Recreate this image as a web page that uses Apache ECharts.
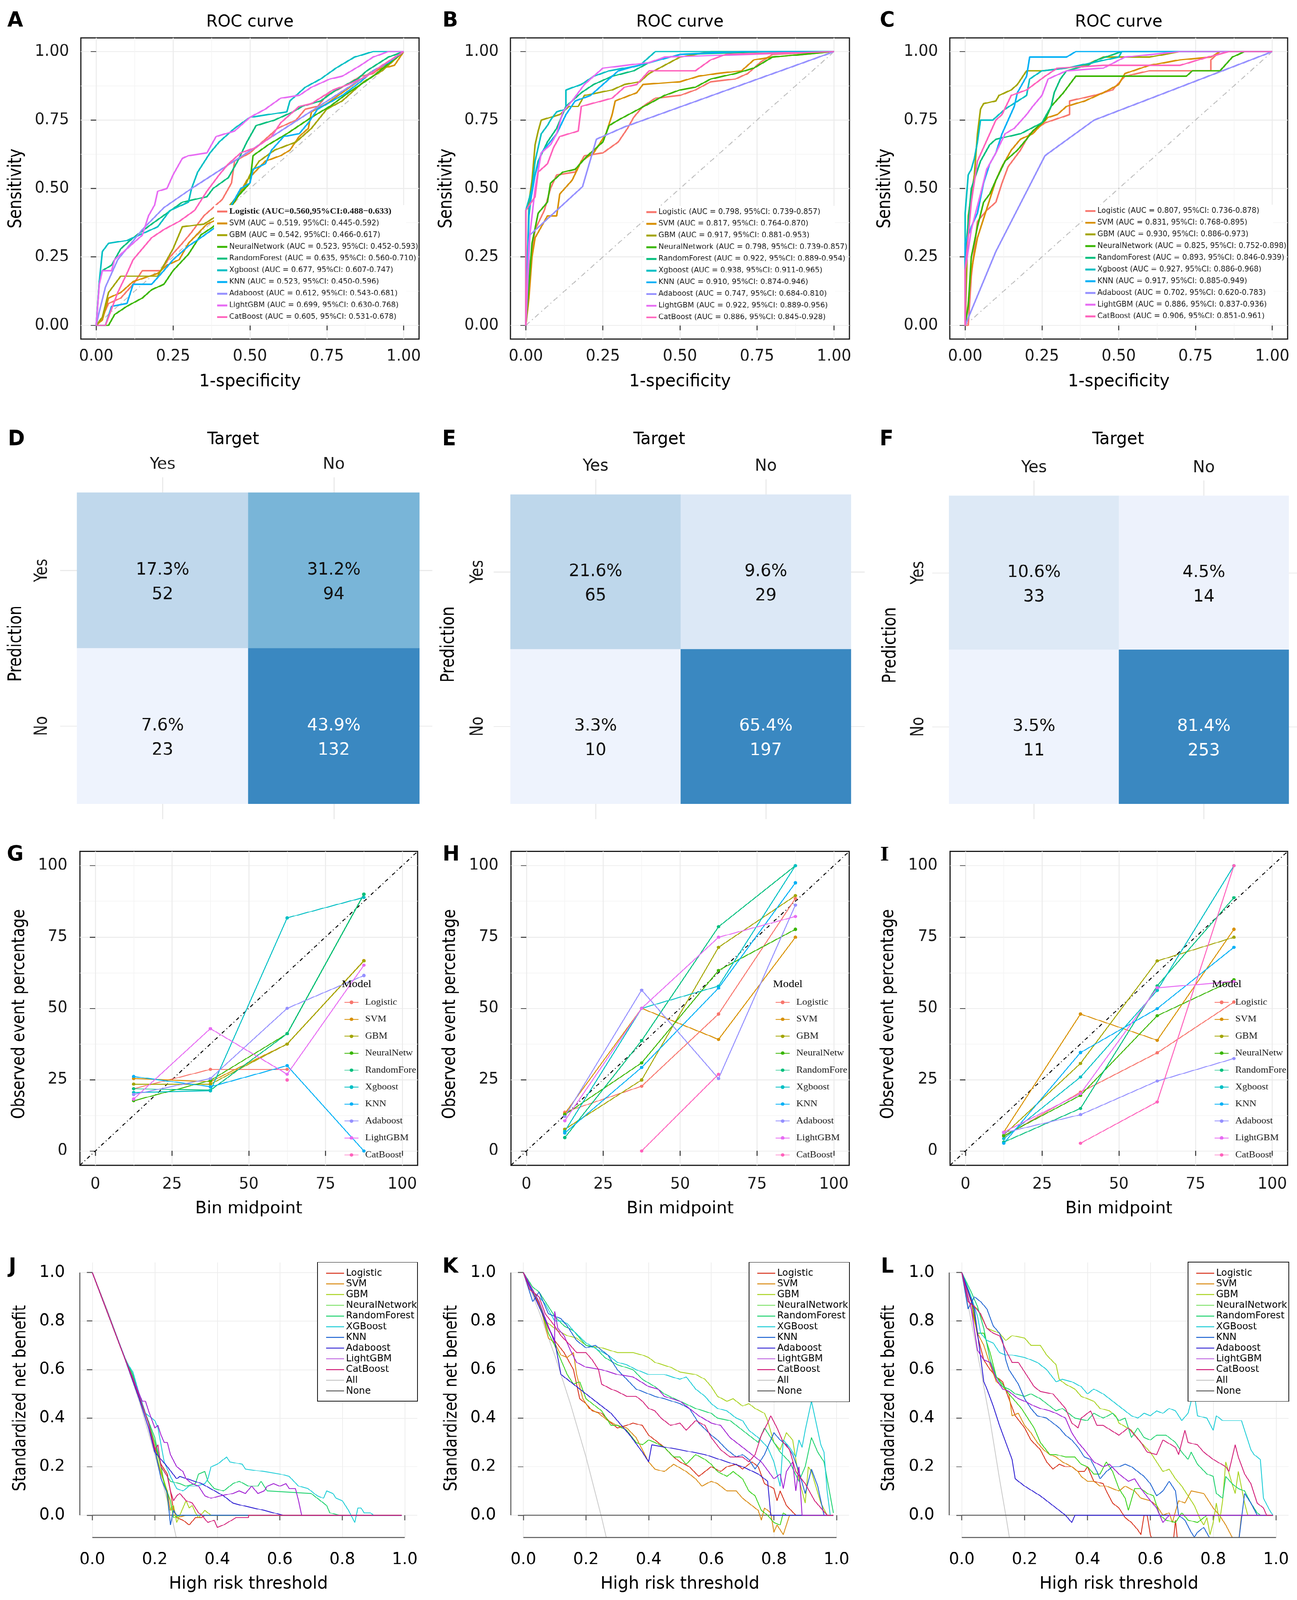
<!DOCTYPE html>
<html>
<head>
<meta charset="utf-8">
<script src="https://cdn.jsdelivr.net/npm/echarts@6.0.0/dist/echarts.min.js"></script>
<style>
html, body { margin: 0; padding: 0; background: #fff; overflow: hidden; }
#page { position: relative; width: 3321px; height: 4511px; background: #fff; overflow: hidden; transform-origin: 0 0; }
.panel { position: absolute; }
</style>
</head>
<body>
<div id="page"></div>
<script>
// The figure is laid out on a 3321 x 4511 sheet; if the window is shorter, the sheet is
// fitted to the visible height so that every panel stays in view.
(function () {
  var sy = Math.min(1, window.innerHeight / 4511);
  if (sy < 1) document.getElementById('page').style.transform = 'scale(1,' + sy + ')';
})();

// ---------- data ----------
var models = ['Logistic', 'SVM', 'GBM', 'NeuralNetwork', 'RandomForest', 'Xgboost', 'KNN', 'Adaboost', 'LightGBM', 'CatBoost'];
var dcaModels = ['Logistic', 'SVM', 'GBM', 'NeuralNetwork', 'RandomForest', 'XGBoost', 'KNN', 'Adaboost', 'LightGBM', 'CatBoost'];

var rocTicks = [0, 0.25, 0.5, 0.75, 1];
var rocMinor = [0.125, 0.375, 0.625, 0.875];
var calTicks = [0, 25, 50, 75, 100];
var calMinor = [12.5, 37.5, 62.5, 87.5];
var calBins = [12.5, 37.5, 62.5, 87.5];
var dcaTicks = [0, 0.2, 0.4, 0.6, 0.8, 1.0];

var rocLabelsA = [
  'Logistic (AUC=0.560,95%CI:0.488\u22120.633)',
  'SVM (AUC = 0.519, 95%CI: 0.445-0.592)',
  'GBM (AUC = 0.542, 95%CI: 0.466-0.617)',
  'NeuralNetwork (AUC = 0.523, 95%CI: 0.452-0.593)',
  'RandomForest (AUC = 0.635, 95%CI: 0.560-0.710)',
  'Xgboost (AUC = 0.677, 95%CI: 0.607-0.747)',
  'KNN (AUC = 0.523, 95%CI: 0.450-0.596)',
  'Adaboost (AUC = 0.612, 95%CI: 0.543-0.681)',
  'LightGBM (AUC = 0.699, 95%CI: 0.630-0.768)',
  'CatBoost (AUC = 0.605, 95%CI: 0.531-0.678)'
];
var rocLabelsB = [
  'Logistic (AUC = 0.798, 95%CI: 0.739-0.857)',
  'SVM (AUC = 0.817, 95%CI: 0.764-0.870)',
  'GBM (AUC = 0.917, 95%CI: 0.881-0.953)',
  'NeuralNetwork (AUC = 0.798, 95%CI: 0.739-0.857)',
  'RandomForest (AUC = 0.922, 95%CI: 0.889-0.954)',
  'Xgboost (AUC = 0.938, 95%CI: 0.911-0.965)',
  'KNN (AUC = 0.910, 95%CI: 0.874-0.946)',
  'Adaboost (AUC = 0.747, 95%CI: 0.684-0.810)',
  'LightGBM (AUC = 0.922, 95%CI: 0.889-0.956)',
  'CatBoost (AUC = 0.886, 95%CI: 0.845-0.928)'
];
var rocLabelsC = [
  'Logistic (AUC = 0.807, 95%CI: 0.736-0.878)',
  'SVM (AUC = 0.831, 95%CI: 0.768-0.895)',
  'GBM (AUC = 0.930, 95%CI: 0.886-0.973)',
  'NeuralNetwork (AUC = 0.825, 95%CI: 0.752-0.898)',
  'RandomForest (AUC = 0.893, 95%CI: 0.846-0.939)',
  'Xgboost (AUC = 0.927, 95%CI: 0.886-0.968)',
  'KNN (AUC = 0.917, 95%CI: 0.885-0.949)',
  'Adaboost (AUC = 0.702, 95%CI: 0.620-0.783)',
  'LightGBM (AUC = 0.886, 95%CI: 0.837-0.936)',
  'CatBoost (AUC = 0.906, 95%CI: 0.851-0.961)'
];

// ROC curves, [1-specificity, sensitivity]
var rocA = [
  [[0,0],[0.02,0.03],[0.04,0.08],[0.08,0.1],[0.12,0.15],[0.15,0.2],[0.21,0.2],[0.24,0.25],[0.28,0.3],[0.31,0.34],[0.35,0.4],[0.41,0.46],[0.44,0.52],[0.45,0.6],[0.5,0.63],[0.55,0.68],[0.59,0.72],[0.65,0.75],[0.68,0.79],[0.72,0.8],[0.75,0.84],[0.8,0.87],[0.86,0.91],[0.9,0.92],[0.95,0.96],[1,1]],
  [[0,0],[0.02,0.02],[0.04,0.1],[0.08,0.12],[0.12,0.16],[0.2,0.19],[0.23,0.22],[0.27,0.24],[0.3,0.3],[0.36,0.37],[0.4,0.39],[0.45,0.45],[0.49,0.53],[0.55,0.6],[0.6,0.62],[0.63,0.64],[0.66,0.69],[0.69,0.72],[0.7,0.78],[0.75,0.81],[0.8,0.85],[0.85,0.89],[0.9,0.93],[0.97,0.95],[1,1]],
  [[0,0],[0.02,0.03],[0.04,0.12],[0.08,0.18],[0.2,0.18],[0.25,0.28],[0.28,0.36],[0.35,0.37],[0.42,0.42],[0.45,0.46],[0.48,0.5],[0.5,0.55],[0.53,0.6],[0.58,0.64],[0.65,0.67],[0.7,0.72],[0.75,0.79],[0.8,0.82],[0.83,0.85],[0.87,0.89],[0.93,0.93],[1,1]],
  [[0,0],[0.04,0],[0.06,0.04],[0.1,0.07],[0.15,0.1],[0.18,0.13],[0.22,0.15],[0.25,0.2],[0.3,0.26],[0.34,0.33],[0.38,0.36],[0.43,0.42],[0.46,0.47],[0.5,0.52],[0.51,0.62],[0.56,0.66],[0.62,0.7],[0.7,0.76],[0.76,0.8],[0.82,0.85],[0.9,0.91],[1,1]],
  [[0,0],[0.01,0.16],[0.02,0.2],[0.05,0.22],[0.08,0.28],[0.12,0.32],[0.18,0.37],[0.23,0.41],[0.28,0.45],[0.36,0.47],[0.38,0.5],[0.43,0.54],[0.46,0.6],[0.49,0.67],[0.52,0.73],[0.58,0.75],[0.64,0.78],[0.67,0.8],[0.73,0.82],[0.78,0.86],[0.85,0.9],[0.88,0.93],[0.95,0.98],[1,1]],
  [[0,0],[0.01,0.16],[0.02,0.27],[0.04,0.3],[0.1,0.31],[0.14,0.33],[0.2,0.36],[0.24,0.42],[0.3,0.45],[0.31,0.5],[0.33,0.56],[0.37,0.63],[0.4,0.67],[0.45,0.72],[0.5,0.76],[0.62,0.78],[0.63,0.82],[0.68,0.87],[0.73,0.9],[0.78,0.94],[0.84,0.98],[0.9,1],[1,1]],
  [[0,0],[0.03,0],[0.05,0.07],[0.1,0.08],[0.12,0.15],[0.18,0.15],[0.22,0.2],[0.25,0.24],[0.3,0.29],[0.34,0.32],[0.39,0.36],[0.44,0.44],[0.47,0.5],[0.5,0.52],[0.51,0.57],[0.55,0.59],[0.57,0.64],[0.61,0.69],[0.66,0.7],[0.69,0.74],[0.72,0.79],[0.8,0.84],[0.86,0.89],[0.9,0.93],[0.95,0.96],[1,1]],
  [[0,0],[0.01,0.05],[0.03,0.14],[0.07,0.24],[0.15,0.35],[0.22,0.43],[0.31,0.5],[1,1]],
  [[0,0],[0.01,0.15],[0.02,0.2],[0.05,0.2],[0.06,0.24],[0.1,0.28],[0.15,0.33],[0.17,0.4],[0.19,0.44],[0.2,0.49],[0.23,0.5],[0.25,0.55],[0.28,0.61],[0.3,0.62],[0.36,0.63],[0.39,0.69],[0.45,0.71],[0.5,0.76],[0.55,0.79],[0.6,0.83],[0.66,0.84],[0.7,0.87],[0.76,0.9],[0.8,0.91],[0.86,0.95],[0.9,0.98],[0.95,1],[1,1]],
  [[0,0],[0.03,0],[0.05,0.06],[0.07,0.12],[0.1,0.19],[0.12,0.24],[0.15,0.28],[0.18,0.32],[0.22,0.35],[0.27,0.38],[0.32,0.42],[0.36,0.49],[0.4,0.55],[0.43,0.59],[0.47,0.63],[0.52,0.65],[0.57,0.69],[0.6,0.74],[0.66,0.8],[0.7,0.81],[0.77,0.86],[0.82,0.88],[0.88,0.91],[0.93,0.95],[1,1]]
];
var rocB = [
  [[0,0],[0.01,0.2],[0.03,0.35],[0.06,0.42],[0.08,0.5],[0.1,0.55],[0.16,0.56],[0.19,0.62],[0.25,0.63],[0.3,0.67],[0.33,0.72],[0.35,0.76],[0.38,0.8],[0.42,0.83],[0.5,0.84],[0.55,0.86],[0.6,0.89],[0.68,0.9],[0.72,0.92],[0.76,0.96],[0.8,0.99],[1,1]],
  [[0,0],[0.01,0.1],[0.02,0.25],[0.03,0.32],[0.05,0.36],[0.07,0.4],[0.1,0.4],[0.11,0.48],[0.15,0.53],[0.18,0.6],[0.22,0.63],[0.26,0.7],[0.28,0.77],[0.29,0.82],[0.36,0.85],[0.38,0.88],[0.5,0.89],[0.56,0.91],[0.62,0.92],[0.7,0.93],[0.74,0.97],[0.8,0.98],[1,1]],
  [[0,0],[0.01,0.45],[0.02,0.53],[0.03,0.66],[0.04,0.71],[0.05,0.75],[0.08,0.76],[0.11,0.77],[0.14,0.8],[0.17,0.8],[0.19,0.84],[0.28,0.86],[0.32,0.88],[0.37,0.89],[0.4,0.92],[0.45,0.95],[0.5,0.98],[0.6,1],[1,1]],
  [[0,0],[0.01,0.15],[0.02,0.3],[0.04,0.41],[0.07,0.45],[0.08,0.52],[0.12,0.56],[0.16,0.57],[0.2,0.62],[0.25,0.67],[0.27,0.73],[0.3,0.75],[0.35,0.78],[0.4,0.81],[0.45,0.84],[0.5,0.86],[0.55,0.87],[0.6,0.9],[0.68,0.92],[0.74,0.94],[0.77,0.96],[0.8,0.98],[1,1]],
  [[0,0],[0.01,0.4],[0.02,0.5],[0.04,0.6],[0.07,0.67],[0.1,0.72],[0.13,0.8],[0.18,0.85],[0.22,0.88],[0.28,0.91],[0.35,0.93],[0.4,0.96],[0.5,0.99],[0.8,1],[1,1]],
  [[0,0],[0,0.42],[0.01,0.46],[0.02,0.5],[0.03,0.6],[0.05,0.7],[0.07,0.73],[0.08,0.75],[0.1,0.78],[0.13,0.79],[0.13,0.86],[0.18,0.88],[0.22,0.91],[0.27,0.93],[0.37,0.95],[0.4,0.98],[0.42,1],[1,1]],
  [[0,0],[0.01,0.42],[0.03,0.55],[0.05,0.63],[0.1,0.7],[0.13,0.77],[0.16,0.82],[0.21,0.84],[0.25,0.88],[0.3,0.93],[0.4,0.96],[0.5,0.99],[0.7,1],[1,1]],
  [[0,0],[0.013,0.33],[0.184,0.507],[0.229,0.68],[0.32,0.725],[1,1]],
  [[0,0],[0.01,0.3],[0.03,0.5],[0.05,0.63],[0.08,0.66],[0.1,0.7],[0.12,0.78],[0.15,0.82],[0.19,0.88],[0.22,0.91],[0.25,0.94],[0.4,0.96],[0.45,0.98],[0.72,0.99],[1,1]],
  [[0,0],[0,0.42],[0.03,0.47],[0.04,0.56],[0.07,0.59],[0.09,0.65],[0.11,0.69],[0.17,0.71],[0.18,0.8],[0.28,0.83],[0.32,0.87],[0.36,0.88],[0.4,0.93],[0.55,0.93],[0.6,0.97],[0.65,0.99],[1,1]]
];
var rocC = [
  [[0,0],[0.01,0],[0.02,0.18],[0.04,0.38],[0.07,0.42],[0.1,0.45],[0.12,0.52],[0.14,0.58],[0.18,0.64],[0.21,0.7],[0.26,0.74],[0.34,0.77],[0.34,0.82],[0.42,0.84],[0.48,0.86],[0.52,0.91],[0.6,0.93],[0.8,0.93],[0.8,0.97],[0.83,1],[1,1]],
  [[0,0],[0.01,0.08],[0.02,0.2],[0.04,0.32],[0.06,0.39],[0.08,0.46],[0.1,0.53],[0.12,0.58],[0.15,0.64],[0.18,0.68],[0.22,0.7],[0.27,0.76],[0.3,0.77],[0.33,0.8],[0.39,0.82],[0.45,0.85],[0.5,0.88],[0.52,0.92],[0.6,0.95],[0.7,0.97],[0.8,0.98],[0.83,1],[1,1]],
  [[0,0],[0.01,0.4],[0.03,0.55],[0.04,0.7],[0.05,0.79],[0.06,0.81],[0.1,0.82],[0.11,0.84],[0.15,0.86],[0.17,0.88],[0.2,0.93],[0.25,0.93],[0.33,0.94],[0.39,0.95],[0.45,0.98],[0.6,0.98],[0.7,1],[1,1]],
  [[0,0],[0.01,0.07],[0.02,0.25],[0.04,0.36],[0.06,0.45],[0.08,0.48],[0.1,0.53],[0.13,0.6],[0.17,0.64],[0.2,0.68],[0.22,0.71],[0.26,0.75],[0.28,0.8],[0.32,0.85],[0.36,0.91],[0.72,0.91],[0.74,0.93],[0.83,0.93],[0.87,0.98],[0.91,1],[1,1]],
  [[0,0],[0,0.25],[0.02,0.5],[0.05,0.6],[0.08,0.66],[0.1,0.68],[0.18,0.7],[0.25,0.74],[0.28,0.8],[0.29,0.85],[0.31,0.9],[0.33,0.93],[0.4,0.95],[0.43,0.97],[0.51,1],[1,1]],
  [[0,0],[0,0.41],[0.01,0.55],[0.02,0.57],[0.03,0.61],[0.04,0.67],[0.05,0.75],[0.09,0.75],[0.13,0.79],[0.2,0.84],[0.21,0.9],[0.25,0.93],[0.33,0.94],[0.5,0.98],[0.51,1],[1,1]],
  [[0,0],[0,0.3],[0.02,0.36],[0.04,0.41],[0.06,0.52],[0.08,0.59],[0.1,0.63],[0.12,0.7],[0.14,0.75],[0.16,0.8],[0.17,0.85],[0.2,0.91],[0.21,0.98],[0.33,0.98],[0.36,1],[1,1]],
  [[0,0],[0.1,0.27],[0.26,0.62],[0.42,0.75],[1,1]],
  [[0,0],[0,0.2],[0.02,0.35],[0.05,0.48],[0.07,0.57],[0.1,0.63],[0.13,0.7],[0.16,0.72],[0.2,0.77],[0.22,0.8],[0.25,0.84],[0.27,0.9],[0.33,0.93],[0.45,0.94],[0.52,0.98],[0.7,1],[1,1]],
  [[0,0],[0,0.2],[0.02,0.45],[0.04,0.6],[0.08,0.7],[0.1,0.75],[0.12,0.77],[0.15,0.84],[0.2,0.86],[0.26,0.91],[0.3,0.94],[0.45,0.95],[0.7,0.95],[0.79,0.98],[0.86,1],[1,1]]
];

// confusion matrices: [predYes/targetYes, predYes/targetNo, predNo/targetYes, predNo/targetNo]
var cmTargets = ['Yes', 'No'];
var cmPredRows = ['No', 'Yes'];
var cmPctD = [17.3, 31.2, 7.6, 43.9];
var cmCountD = [52, 94, 23, 132];
var cmPctE = [21.6, 9.6, 3.3, 65.4];
var cmCountE = [65, 29, 10, 197];
var cmPctF = [10.6, 4.5, 3.5, 81.4];
var cmCountF = [33, 14, 11, 253];

// calibration: observed event percentage per bin (null = no point)
var calG = [
  [21.8, 28.6, 28.6, null],
  [25.4, 24.3, 37.5, 66.7],
  [23.4, 23.4, 37.5, 66.6],
  [17.6, 24.7, 41.1, 90.0],
  [21.8, 21.3, 41.1, 90.0],
  [20.5, 21.1, 81.7, 88.9],
  [26.1, 22.5, 29.9, 0],
  [19.8, 25.4, 50.0, 61.5],
  [18.2, 42.9, 26.9, 65.1],
  [null, null, 24.9, null]
];
var calH = [
  [13.6, 22.7, 48.0, 88.5],
  [13.1, 50.0, 39.1, 74.9],
  [7.6, 24.9, 71.4, 89.5],
  [12.7, 30.9, 63.3, 77.7],
  [4.7, 38.7, 78.6, 100],
  [6.9, 50.0, 57.8, 100],
  [6.3, 29.3, 57.1, 94.0],
  [12.1, 56.4, 25.4, 86.2],
  [10.6, 50.0, 74.9, 82.2],
  [null, 0, 26.9, null]
];
var calI = [
  [5.1, 20.6, 34.4, 52.2],
  [6.6, 48.0, 38.8, 77.7],
  [5.6, 30.7, 66.6, 74.9],
  [5.3, 19.5, 47.4, 60.0],
  [3.1, 14.9, 57.9, 88.8],
  [4.3, 25.9, 56.3, 100],
  [2.7, 34.5, 49.9, 71.4],
  [6.4, 12.7, 24.5, 32.4],
  [6.6, 20.1, 57.2, 59.4],
  [null, 2.7, 17.2, 100]
];

// decision curves: [threshold, standardized net benefit]
var dcaJ = [
  [[0,1],[0.05,0.83],[0.1,0.66],[0.15,0.49],[0.18,0.38],[0.2,0.28],[0.22,0.21],[0.24,0.17],[0.25,0.1],[0.26,0.02],[0.27,-0.01],[0.29,-0.02],[0.31,-0.04],[0.33,-0.01],[0.35,-0.01],[0.36,0],[0.99,0]],
  [[0,1],[0.05,0.83],[0.1,0.66],[0.15,0.49],[0.18,0.38],[0.2,0.27],[0.22,0.17],[0.24,0.1],[0.25,0.02],[0.26,0.03],[0.27,-0.01],[0.3,0],[0.99,0]],
  [[0,1],[0.05,0.83],[0.1,0.66],[0.15,0.5],[0.18,0.38],[0.2,0.27],[0.22,0.18],[0.235,0.12],[0.245,0.02],[0.26,0.04],[0.27,-0.03],[0.28,0],[0.3,0.06],[0.31,0.03],[0.32,0.04],[0.33,0.01],[0.34,-0.01],[0.36,0.02],[0.38,0],[0.99,0]],
  [[0,1],[0.05,0.83],[0.1,0.66],[0.13,0.57],[0.15,0.5],[0.18,0.38],[0.2,0.3],[0.22,0.2],[0.23,0.13],[0.25,0.06],[0.26,-0.01],[0.28,0],[0.99,0]],
  [[0,1],[0.05,0.83],[0.1,0.66],[0.13,0.58],[0.15,0.5],[0.17,0.42],[0.2,0.32],[0.22,0.2],[0.25,0.14],[0.28,0.13],[0.3,0.12],[0.33,0.13],[0.34,0.17],[0.36,0.18],[0.37,0.14],[0.39,0.11],[0.42,0.1],[0.45,0.13],[0.47,0.14],[0.5,0.12],[0.53,0.12],[0.54,0.14],[0.56,0.1],[0.7,0.09],[0.72,0.07],[0.75,0.04],[0.76,0.01],[0.79,0],[0.99,0]],
  [[0,1],[0.11,0.63],[0.13,0.59],[0.15,0.5],[0.17,0.42],[0.2,0.39],[0.21,0.36],[0.23,0.22],[0.25,0.16],[0.27,0.11],[0.29,0.1],[0.31,0.12],[0.33,0.12],[0.36,0.13],[0.37,0.15],[0.38,0.2],[0.4,0.21],[0.42,0.23],[0.43,0.24],[0.44,0.22],[0.48,0.21],[0.49,0.19],[0.55,0.18],[0.6,0.17],[0.63,0.16],[0.66,0.12],[0.69,0.11],[0.72,0.08],[0.74,0.07],[0.75,0.1],[0.77,0.09],[0.78,0.07],[0.8,0.06],[0.82,0.02],[0.84,-0.03],[0.85,0.03],[0.86,0.03],[0.87,0.01],[0.89,0.01],[0.9,0],[0.99,0]],
  [[0,1],[0.05,0.83],[0.1,0.66],[0.15,0.49],[0.18,0.38],[0.2,0.27],[0.22,0.15],[0.24,0.09],[0.25,-0.04],[0.26,0.02],[0.27,0],[0.99,0]],
  [[0,1],[0.05,0.83],[0.1,0.66],[0.15,0.48],[0.18,0.36],[0.2,0.26],[0.24,0.2],[0.27,0.15],[0.28,0.16],[0.35,0.13],[0.42,0.08],[0.45,0.05],[0.48,0.04],[0.55,0.02],[0.61,0],[0.99,0]],
  [[0,1],[0.1,0.66],[0.15,0.5],[0.16,0.47],[0.17,0.47],[0.18,0.43],[0.2,0.36],[0.21,0.37],[0.22,0.33],[0.23,0.3],[0.24,0.3],[0.25,0.25],[0.27,0.2],[0.29,0.18],[0.3,0.15],[0.32,0.13],[0.34,0.12],[0.36,0.08],[0.38,0.07],[0.41,0.08],[0.45,0.09],[0.47,0.1],[0.49,0.09],[0.51,0.12],[0.53,0.09],[0.55,0.1],[0.56,0.12],[0.58,0.13],[0.6,0.12],[0.62,0.13],[0.63,0.11],[0.65,0.11],[0.66,0.06],[0.67,0],[0.99,0]],
  [[0,1],[0.1,0.66],[0.15,0.49],[0.18,0.38],[0.2,0.27],[0.21,0.29],[0.22,0.2],[0.24,0.16],[0.25,0.1],[0.26,0.06],[0.27,0.08],[0.28,0.09],[0.3,0.06],[0.32,0.05],[0.34,0.01],[0.35,0],[0.37,-0.03],[0.39,-0.02],[0.4,-0.05],[0.42,-0.04],[0.46,-0.01],[0.5,-0.01],[0.5,0],[0.99,0]]
];
var dcaK = [
  [[0,1],[0.05,0.87],[0.08,0.77],[0.1,0.72],[0.13,0.67],[0.16,0.6],[0.18,0.48],[0.2,0.46],[0.22,0.43],[0.25,0.42],[0.28,0.38],[0.3,0.36],[0.33,0.37],[0.35,0.38],[0.38,0.37],[0.4,0.33],[0.42,0.31],[0.45,0.28],[0.48,0.24],[0.5,0.22],[0.53,0.2],[0.56,0.16],[0.6,0.2],[0.63,0.18],[0.65,0.2],[0.68,0.21],[0.7,0.19],[0.73,0.22],[0.75,0.2],[0.77,0.13],[0.8,0.11],[0.81,0.06],[0.82,0.1],[0.84,0.04],[0.87,0],[0.99,0]],
  [[0,1],[0.05,0.88],[0.08,0.73],[0.1,0.71],[0.12,0.66],[0.14,0.65],[0.16,0.67],[0.17,0.58],[0.19,0.48],[0.21,0.44],[0.24,0.42],[0.27,0.39],[0.3,0.37],[0.33,0.36],[0.36,0.32],[0.38,0.27],[0.4,0.22],[0.42,0.19],[0.45,0.18],[0.48,0.21],[0.52,0.18],[0.55,0.15],[0.57,0.12],[0.6,0.14],[0.62,0.13],[0.65,0.1],[0.68,0.1],[0.7,0.07],[0.72,0.05],[0.75,0.02],[0.76,-0.02],[0.77,0.03],[0.79,0.01],[0.8,-0.07],[0.81,-0.04],[0.83,-0.08],[0.85,0],[0.99,0]],
  [[0,1],[0.03,0.92],[0.05,0.88],[0.07,0.8],[0.09,0.78],[0.11,0.76],[0.14,0.74],[0.17,0.73],[0.2,0.7],[0.25,0.69],[0.3,0.67],[0.35,0.67],[0.38,0.66],[0.4,0.65],[0.42,0.63],[0.47,0.61],[0.5,0.59],[0.55,0.58],[0.58,0.56],[0.6,0.53],[0.62,0.49],[0.65,0.47],[0.67,0.48],[0.7,0.45],[0.72,0.46],[0.74,0.44],[0.77,0.42],[0.78,0.39],[0.8,0.3],[0.82,0.27],[0.84,0.34],[0.86,0.31],[0.88,0.15],[0.9,0.05],[0.91,0.2],[0.92,0.18],[0.95,0.05],[0.97,0],[0.99,0]],
  [[0,1],[0.05,0.88],[0.08,0.75],[0.1,0.7],[0.12,0.64],[0.14,0.58],[0.16,0.54],[0.18,0.55],[0.2,0.48],[0.22,0.46],[0.25,0.43],[0.28,0.37],[0.3,0.37],[0.33,0.35],[0.36,0.3],[0.38,0.29],[0.4,0.31],[0.42,0.3],[0.45,0.28],[0.48,0.24],[0.5,0.24],[0.52,0.21],[0.55,0.25],[0.58,0.23],[0.6,0.21],[0.62,0.18],[0.65,0.16],[0.67,0.18],[0.7,0.15],[0.72,0.1],[0.74,0.08],[0.76,0.02],[0.78,0],[0.8,-0.03],[0.82,-0.04],[0.83,0.01],[0.84,0],[0.99,0]],
  [[0,1],[0.03,0.94],[0.05,0.92],[0.1,0.82],[0.13,0.78],[0.16,0.76],[0.18,0.73],[0.2,0.7],[0.23,0.69],[0.26,0.65],[0.3,0.62],[0.35,0.6],[0.38,0.56],[0.42,0.53],[0.45,0.5],[0.5,0.47],[0.55,0.44],[0.6,0.42],[0.62,0.4],[0.66,0.39],[0.7,0.35],[0.73,0.32],[0.75,0.3],[0.77,0.36],[0.8,0.3],[0.82,0.26],[0.85,0.22],[0.88,0.14],[0.9,0.2],[0.92,0.32],[0.94,0.26],[0.96,0.22],[0.99,0.01]],
  [[0,1],[0.03,0.92],[0.05,0.9],[0.07,0.87],[0.1,0.8],[0.12,0.8],[0.14,0.79],[0.16,0.76],[0.2,0.71],[0.24,0.68],[0.27,0.66],[0.3,0.63],[0.33,0.62],[0.36,0.6],[0.4,0.58],[0.45,0.58],[0.5,0.56],[0.52,0.57],[0.55,0.52],[0.58,0.49],[0.6,0.46],[0.62,0.44],[0.65,0.43],[0.68,0.4],[0.7,0.39],[0.72,0.35],[0.75,0.32],[0.78,0.28],[0.8,0.22],[0.82,0.12],[0.83,0.31],[0.85,0.28],[0.87,0.24],[0.88,0.31],[0.89,0.28],[0.9,0.35],[0.92,0.47],[0.94,0.35],[0.95,0.29],[0.96,0.26],[0.97,0.1],[0.98,0],[0.99,0]],
  [[0,1],[0.03,0.88],[0.05,0.92],[0.08,0.83],[0.12,0.81],[0.14,0.78],[0.17,0.72],[0.2,0.69],[0.23,0.7],[0.25,0.68],[0.27,0.66],[0.3,0.6],[0.33,0.56],[0.36,0.52],[0.38,0.51],[0.42,0.49],[0.45,0.48],[0.5,0.46],[0.53,0.44],[0.56,0.38],[0.6,0.33],[0.62,0.31],[0.65,0.27],[0.68,0.24],[0.7,0.25],[0.72,0.23],[0.74,0.19],[0.77,0.25],[0.8,0.34],[0.82,0.31],[0.84,0.29],[0.86,0.25],[0.88,0.18],[0.9,0.09],[0.92,0.19],[0.94,0.12],[0.96,0],[0.99,0]],
  [[0,1],[0.1,0.72],[0.12,0.58],[0.2,0.5],[0.28,0.42],[0.34,0.33],[0.38,0.26],[0.4,0.22],[0.41,0.29],[0.5,0.27],[0.58,0.25],[0.65,0.22],[0.7,0.2],[0.75,0.17],[0.78,0.14],[0.79,0],[0.99,0]],
  [[0,1],[0.05,0.88],[0.1,0.71],[0.1,0.84],[0.11,0.77],[0.13,0.74],[0.15,0.68],[0.17,0.63],[0.2,0.61],[0.25,0.6],[0.3,0.58],[0.35,0.57],[0.4,0.53],[0.43,0.52],[0.45,0.49],[0.5,0.47],[0.53,0.44],[0.56,0.41],[0.6,0.38],[0.63,0.37],[0.66,0.32],[0.7,0.28],[0.73,0.25],[0.76,0.22],[0.8,0.15],[0.82,0.17],[0.83,0.11],[0.84,0.18],[0.86,0.22],[0.87,0.1],[0.88,0.2],[0.89,0],[0.99,0]],
  [[0,1],[0.02,0.93],[0.05,0.9],[0.07,0.83],[0.1,0.78],[0.12,0.74],[0.15,0.7],[0.17,0.67],[0.2,0.67],[0.22,0.64],[0.24,0.6],[0.25,0.54],[0.28,0.52],[0.3,0.51],[0.33,0.49],[0.36,0.49],[0.38,0.47],[0.4,0.44],[0.42,0.43],[0.44,0.4],[0.47,0.37],[0.5,0.38],[0.52,0.35],[0.55,0.39],[0.58,0.37],[0.6,0.32],[0.63,0.27],[0.66,0.24],[0.7,0.24],[0.72,0.22],[0.74,0.25],[0.76,0.33],[0.78,0.38],[0.79,0.41],[0.81,0.36],[0.83,0.3],[0.85,0.27],[0.87,0.18],[0.9,0.13],[0.93,0.06],[0.95,0.03],[0.97,0],[0.99,0]]
];
var dcaL = [
  [[0,1],[0.03,0.88],[0.05,0.74],[0.07,0.64],[0.09,0.6],[0.11,0.57],[0.13,0.55],[0.15,0.48],[0.17,0.41],[0.2,0.36],[0.22,0.31],[0.25,0.27],[0.27,0.22],[0.29,0.19],[0.31,0.21],[0.33,0.2],[0.35,0.2],[0.37,0.18],[0.39,0.18],[0.4,0.2],[0.42,0.14],[0.45,0.13],[0.46,0.1],[0.48,0.05],[0.5,0.03],[0.51,0.01],[0.52,-0.01],[0.54,-0.03],[0.56,-0.06],[0.57,-0.08],[0.58,0],[0.59,0],[0.6,-0.08],[0.62,-0.15],[0.67,-0.15],[0.68,-0.02],[0.69,-0.15]],
  [[0,1],[0.03,0.85],[0.05,0.75],[0.07,0.7],[0.09,0.62],[0.11,0.55],[0.13,0.53],[0.15,0.5],[0.16,0.41],[0.18,0.42],[0.2,0.37],[0.22,0.34],[0.24,0.3],[0.26,0.27],[0.28,0.25],[0.3,0.24],[0.32,0.22],[0.35,0.2],[0.37,0.18],[0.38,0.16],[0.4,0.14],[0.42,0.14],[0.44,0.12],[0.46,0.12],[0.5,0.1],[0.52,0.12],[0.55,0.1],[0.57,0.07],[0.6,0.06],[0.62,0.04],[0.64,0],[0.66,0.01],[0.67,-0.03],[0.69,0.06],[0.71,0.05],[0.73,0.1],[0.77,0.09],[0.8,0.03],[0.82,0],[0.84,-0.04],[0.86,-0.09],[0.88,-0.12],[0.89,0],[0.99,0]],
  [[0,1],[0.02,0.88],[0.05,0.85],[0.08,0.77],[0.1,0.76],[0.12,0.75],[0.14,0.72],[0.16,0.74],[0.2,0.73],[0.22,0.7],[0.25,0.7],[0.27,0.66],[0.3,0.62],[0.31,0.56],[0.33,0.54],[0.36,0.52],[0.38,0.49],[0.42,0.47],[0.44,0.44],[0.47,0.43],[0.49,0.41],[0.5,0.38],[0.54,0.35],[0.57,0.3],[0.6,0.26],[0.62,0.22],[0.64,0.18],[0.66,0.19],[0.68,0.15],[0.7,0.12],[0.72,0.08],[0.74,0.04],[0.76,-0.02],[0.77,-0.04],[0.78,-0.01],[0.79,-0.08],[0.8,-0.03],[0.81,0.05],[0.82,-0.03],[0.83,0.06],[0.84,0.22],[0.86,0.13],[0.87,0.09],[0.88,0.18],[0.9,0.05],[0.91,0],[0.99,0]],
  [[0,1],[0.03,0.9],[0.05,0.75],[0.07,0.75],[0.09,0.67],[0.11,0.57],[0.13,0.54],[0.15,0.5],[0.17,0.47],[0.19,0.44],[0.21,0.4],[0.23,0.36],[0.25,0.3],[0.28,0.25],[0.3,0.25],[0.33,0.24],[0.36,0.24],[0.38,0.21],[0.4,0.2],[0.42,0.17],[0.44,0.17],[0.46,0.22],[0.48,0.18],[0.5,0.11],[0.52,0.07],[0.53,0.02],[0.55,0.11],[0.57,0.11],[0.59,0.09],[0.61,0.08],[0.63,0],[0.65,-0.02],[0.68,-0.03],[0.7,0.01],[0.72,-0.02],[0.75,-0.03],[0.78,0],[0.99,0]],
  [[0,1],[0.03,0.92],[0.05,0.86],[0.07,0.77],[0.09,0.64],[0.11,0.57],[0.13,0.53],[0.15,0.52],[0.17,0.5],[0.2,0.49],[0.22,0.5],[0.25,0.48],[0.27,0.46],[0.3,0.43],[0.32,0.44],[0.34,0.42],[0.36,0.4],[0.4,0.39],[0.42,0.42],[0.45,0.4],[0.48,0.42],[0.5,0.39],[0.52,0.4],[0.54,0.32],[0.56,0.36],[0.58,0.32],[0.6,0.31],[0.62,0.33],[0.65,0.33],[0.68,0.3],[0.7,0.26],[0.72,0.23],[0.73,0.26],[0.75,0.21],[0.78,0.17],[0.8,0.16],[0.81,0.09],[0.83,0.07],[0.84,0.16],[0.86,0.13],[0.88,0.11],[0.9,0.1],[0.92,0.05],[0.94,0.01],[0.95,0],[0.99,0]],
  [[0,1],[0.03,0.9],[0.05,0.82],[0.06,0.75],[0.08,0.72],[0.1,0.71],[0.12,0.67],[0.14,0.66],[0.16,0.66],[0.2,0.65],[0.22,0.64],[0.24,0.63],[0.27,0.6],[0.3,0.55],[0.32,0.56],[0.35,0.55],[0.38,0.53],[0.4,0.5],[0.42,0.52],[0.45,0.5],[0.48,0.47],[0.5,0.45],[0.52,0.43],[0.54,0.41],[0.56,0.4],[0.58,0.42],[0.6,0.41],[0.62,0.43],[0.64,0.42],[0.66,0.44],[0.68,0.43],[0.7,0.39],[0.72,0.42],[0.73,0.47],[0.74,0.5],[0.75,0.41],[0.78,0.4],[0.8,0.35],[0.81,0.41],[0.83,0.39],[0.86,0.39],[0.89,0.39],[0.9,0.35],[0.92,0.27],[0.93,0.25],[0.95,0.23],[0.96,0.07],[0.98,0.02],[0.99,0]],
  [[0,1],[0.02,0.85],[0.04,0.9],[0.06,0.88],[0.08,0.85],[0.1,0.78],[0.12,0.75],[0.13,0.72],[0.14,0.64],[0.15,0.6],[0.16,0.58],[0.18,0.54],[0.2,0.48],[0.22,0.44],[0.24,0.41],[0.27,0.4],[0.29,0.38],[0.31,0.36],[0.33,0.33],[0.35,0.31],[0.37,0.28],[0.39,0.24],[0.41,0.23],[0.43,0.18],[0.44,0.15],[0.46,0.18],[0.48,0.2],[0.5,0.2],[0.52,0.21],[0.54,0.2],[0.56,0.18],[0.58,0.16],[0.6,0.13],[0.62,0.08],[0.64,0.1],[0.66,0.14],[0.68,0.1],[0.69,0],[0.71,-0.02],[0.73,-0.07],[0.74,-0.09],[0.75,-0.07],[0.77,-0.05],[0.8,-0.12],[0.88,-0.12],[0.9,0.09],[0.92,0.05],[0.94,0],[0.99,0]],
  [[0,1],[0.04,0.85],[0.07,0.55],[0.08,0.52],[0.1,0.45],[0.12,0.37],[0.14,0.3],[0.16,0.23],[0.17,0.15],[0.2,0.12],[0.25,0.08],[0.3,0.03],[0.33,0],[0.35,-0.03],[0.36,0],[0.99,0]],
  [[0,1],[0.03,0.85],[0.05,0.68],[0.07,0.64],[0.09,0.63],[0.11,0.56],[0.13,0.52],[0.15,0.51],[0.18,0.48],[0.2,0.47],[0.23,0.45],[0.25,0.44],[0.28,0.43],[0.3,0.42],[0.33,0.4],[0.35,0.34],[0.37,0.3],[0.39,0.27],[0.42,0.22],[0.45,0.2],[0.47,0.21],[0.5,0.17],[0.53,0.14],[0.55,0.15],[0.57,0.11],[0.6,0.06],[0.62,0.03],[0.63,0],[0.64,-0.03],[0.66,0],[0.99,0]],
  [[0,1],[0.02,0.88],[0.04,0.86],[0.06,0.83],[0.08,0.77],[0.1,0.75],[0.12,0.74],[0.14,0.68],[0.16,0.63],[0.18,0.63],[0.2,0.59],[0.23,0.53],[0.25,0.51],[0.29,0.5],[0.31,0.47],[0.33,0.44],[0.35,0.38],[0.37,0.36],[0.38,0.4],[0.41,0.43],[0.43,0.37],[0.45,0.37],[0.5,0.33],[0.53,0.36],[0.55,0.33],[0.57,0.3],[0.59,0.26],[0.62,0.25],[0.64,0.31],[0.68,0.28],[0.69,0.25],[0.71,0.35],[0.72,0.3],[0.75,0.29],[0.77,0.26],[0.8,0.23],[0.84,0.2],[0.85,0.18],[0.87,0.29],[0.88,0.24],[0.9,0.17],[0.92,0.13],[0.94,0.05],[0.96,0.03],[0.97,0],[0.99,0]]
];
var dcaAllJ = [[0,1],[0.05,0.84],[0.1,0.66],[0.15,0.47],[0.2,0.25],[0.253,0],[0.27,-0.1]];
var dcaAllK = [[0,1],[0.05,0.84],[0.1,0.66],[0.12,0.58],[0.15,0.46],[0.2,0.24],[0.25,-0.01],[0.27,-0.12]];
var dcaAllL = [[0,1],[0.03,0.8],[0.06,0.6],[0.09,0.39],[0.12,0.15],[0.14,0],[0.155,-0.12]];
var dcaNone = [[0,0],[0.99,0]];

// ---------- styles ----------
var FONT = '"DejaVu Sans Condensed", "DejaVu Sans", sans-serif';
var SERIF = '"Liberation Serif", "DejaVu Serif", serif';
var rocColors = ['#F8766D', '#D89000', '#A3A500', '#39B600', '#00BF7D', '#00BFC4', '#00B0F6', '#9590FF', '#E76BF3', '#FF62BC'];
var dcaColors = ['#D7301A', '#D98A10', '#A8D21E', '#3CD21E', '#1ED26E', '#1ECDD7', '#1E64D2', '#2D1ED2', '#A01ED2', '#D21E78'];
var cmColorsD = ['#C0D8EC', '#79B5D8', '#EEF3FD', '#3A88C1'];
var cmColorsE = ['#BED7EB', '#DCE8F6', '#EEF3FD', '#3A88C1'];
var cmColorsF = ['#DDE9F6', '#EDF2FC', '#EEF3FD', '#3A88C1'];
var cmTextColors = ['#111', '#111', '#111', '#fff'];

var COLS = [0, 1107, 2214];
var ROWS = [0, 1150, 2300, 3430];
var ROW_H = [1150, 1180, 1130, 1081];
var COL_W = 1107;

function panel(col, row) {
  var d = document.createElement('div');
  d.className = 'panel';
  d.style.left = COLS[col] + 'px';
  d.style.top = ROWS[row] + 'px';
  d.style.width = COL_W + 'px';
  d.style.height = ROW_H[row] + 'px';
  document.getElementById('page').appendChild(d);
  return echarts.init(d, null, { renderer: 'canvas' });
}

function txt(x, y, s, size, o) {
  o = o || {};
  return {
    type: 'text', x: x, y: y, rotation: o.rot || 0, z: 20, silent: true,
    style: {
      text: s, fill: o.color || '#000', fontSize: size, fontFamily: o.family || FONT,
      fontWeight: o.weight || 'normal', textAlign: 'center', textVerticalAlign: 'middle',
      align: 'center', verticalAlign: 'middle'
    }
  };
}

function boxAxes(min, max, ticks, minor, fmt, margin, tickColor) {
  var major = {
    type: 'value', min: min, max: max, gridIndex: 0,
    axisLine: { show: false },
    axisTick: { show: true, customValues: ticks, length: 14, lineStyle: { color: tickColor, width: 2.5 } },
    axisLabel: { customValues: ticks, formatter: fmt, margin: margin, fontSize: 44, color: '#1a1a1a', fontFamily: FONT },
    splitLine: { show: true, lineStyle: { color: '#EBEBEB', width: 2.5 } }
  };
  var out = [major];
  if (minor) {
    out.push({
      type: 'value', min: min, max: max, gridIndex: 0,
      axisLine: { show: false },
      axisTick: { show: false, customValues: minor },
      axisLabel: { show: false, customValues: minor },
      splitLine: { show: true, lineStyle: { color: '#F3F3F3', width: 1.5 } }
    });
  }
  return out;
}

// ---------- ROC panels ----------
function rocPanel(col, curves, labels, lay) {
  var chart = panel(col, 0);
  var series = [{
    type: 'line', name: 'ref', data: [[0, 0], [1, 1]], symbol: 'none', silent: true, z: 1,
    lineStyle: { color: '#BEBEBE', width: 2.5, type: [14, 8, 3, 8] }
  }];
  curves.forEach(function (c, i) {
    series.push({
      type: 'line', name: labels[i], data: c, symbol: 'none', showSymbol: false, z: 2,
      lineStyle: { color: rocColors[i], width: 4 }, itemStyle: { color: rocColors[i] }
    });
  });
  var xa = boxAxes(-0.05, 1.05, rocTicks, rocMinor, function (v) { return v.toFixed(2); }, 28, '#333');
  var ya = boxAxes(-0.05, 1.05, rocTicks, rocMinor, function (v) { return v.toFixed(2); }, 30, '#333');
  xa[1].position = 'top';
  ya[1].position = 'right';
  var g = lay.grid;
  chart.setOption({
    animation: false,
    backgroundColor: 'transparent',
    grid: { left: g[0], top: g[1], width: g[2], height: g[3], show: true, borderColor: '#1a1a1a', borderWidth: 3, outerBoundsMode: 'none' },
    xAxis: xa,
    yAxis: ya,
    legend: {
      orient: 'vertical', left: lay.legend[0], top: lay.legend[1], padding: 0, icon: 'rect',
      itemWidth: 26, itemHeight: 5, itemGap: 11, data: labels, selectedMode: false,
      textStyle: {
        fontSize: 21, fontFamily: FONT, color: '#1a1a1a', lineHeight: 22,
        rich: { b: { fontSize: 23, fontFamily: SERIF, fontWeight: 'bold', color: '#1a1a1a' } }
      },
      formatter: function (n) { return (lay.boldFirst && n === labels[0]) ? '{b|' + n + '}' : n; }
    },
    graphic: [
      { type: 'rect', z: 3, silent: true, shape: { x: lay.box[0], y: lay.box[1], width: lay.box[2], height: lay.box[3] }, style: { fill: '#fff' } },
      txt(lay.letter, 60, lay.letterText, 58, { weight: 'bold' }),
      txt(g[0] + g[2] / 2, 63, 'ROC curve', 47),
      txt(lay.ytitle, g[1] + g[3] / 2, 'Sensitivity', 48, { rot: Math.PI / 2 }),
      txt(g[0] + g[2] / 2, 1077, '1-specificity', 48)
    ],
    series: series
  });
}

rocPanel(0, rocA, rocLabelsA, { grid: [207, 107, 866, 849], legend: [556, 585], box: [548, 578, 492, 334], letter: 39, letterText: 'A', ytitle: 42, boldFirst: true });
rocPanel(1, rocB, rocLabelsB, { grid: [200, 107, 868, 849], legend: [548, 587], box: [543, 580, 488, 332], letter: 46, letterText: 'B', ytitle: 37 });
rocPanel(2, rocC, rocLabelsC, { grid: [218, 107, 865, 849], legend: [565, 584], box: [560, 577, 486, 334], letter: 58, letterText: 'C', ytitle: 53 });

// ---------- confusion matrices ----------
function cmPanel(col, pct, counts, colors, lay) {
  var chart = panel(col, 1);
  var t = lay.tiles, ext = 43;
  var cw = t[2] / 2, ch = t[3] / 2;
  var data = [];
  for (var k = 0; k < 4; k++) {
    var r = Math.floor(k / 2), c = k % 2;
    data.push({
      value: [c, 1 - r, counts[k]],
      itemStyle: { color: colors[k] },
      label: { color: cmTextColors[k] }
    });
  }
  chart.setOption({
    animation: false,
    backgroundColor: 'transparent',
    grid: [
      { left: t[0] - ext, top: t[1] - ext, width: t[2] + 2 * ext, height: t[3] + 2 * ext, outerBoundsMode: 'none' },
      { left: t[0], top: t[1], width: t[2], height: t[3], outerBoundsMode: 'none' }
    ],
    xAxis: [
      { type: 'value', gridIndex: 0, min: 0.5 - ext / cw, max: 2.5 + ext / cw,
        axisLine: { show: false }, axisTick: { show: false, customValues: [1, 2] }, axisLabel: { show: false, customValues: [1, 2] },
        splitLine: { show: true, lineStyle: { color: '#EBEBEB', width: 3 } } },
      { type: 'category', gridIndex: 1, data: cmTargets, position: 'top',
        axisLine: { show: false }, axisTick: { show: false }, splitLine: { show: false },
        axisLabel: { fontSize: 46, fontFamily: FONT, color: '#1a1a1a', margin: 56 } }
    ],
    yAxis: [
      { type: 'value', gridIndex: 0, min: 0.5 - ext / ch, max: 2.5 + ext / ch,
        axisLine: { show: false }, axisTick: { show: false, customValues: [1, 2] }, axisLabel: { show: false, customValues: [1, 2] },
        splitLine: { show: true, lineStyle: { color: '#EBEBEB', width: 3 } } },
      { type: 'category', gridIndex: 1, data: cmPredRows,
        axisLine: { show: false }, axisTick: { show: false }, splitLine: { show: false },
        axisLabel: { fontSize: 46, fontFamily: FONT, color: '#1a1a1a', rotate: 90, margin: lay.rowMargin } }
    ],
    graphic: [
      txt(lay.letter, 90, lay.letterText, 58, { weight: 'bold' }),
      txt(lay.target, 90, 'Target', 48),
      txt(lay.pred, t[1] + t[3] / 2 - 13, 'Prediction', 48, { rot: Math.PI / 2 })
    ],
    series: [{
      type: 'heatmap', xAxisIndex: 1, yAxisIndex: 1, data: data, z: 3,
      emphasis: { disabled: true },
      label: {
        show: true, fontSize: 48, fontFamily: FONT, lineHeight: 69, offset: [0, 34],
        formatter: function (p) { return pct[p.dataIndex].toFixed(1) + '%\n' + counts[p.dataIndex]; }
      }
    }]
  });
}

cmPanel(0, cmPctD, cmCountD, cmColorsD, { tiles: [197, 239, 877, 877], letter: 42, letterText: 'D', target: 597, pred: 42, rowMargin: 66 });
cmPanel(1, cmPctE, cmCountE, cmColorsE, { tiles: [200, 244, 872, 872], letter: 43, letterText: 'E', target: 581, pred: 43, rowMargin: 60 });
cmPanel(2, cmPctF, cmCountF, cmColorsF, { tiles: [216, 248, 870, 868], letter: 56, letterText: 'F', target: 649, pred: 67, rowMargin: 55 });

// ---------- calibration ----------
function calPanel(col, vals, lay) {
  var chart = panel(col, 2);
  var series = [{
    type: 'line', name: 'ref', data: [[-5, -5], [105, 105]], symbol: 'none', silent: true, z: 1,
    lineStyle: { color: '#000', width: 2.5, type: [10, 7, 2, 7] }
  }];
  vals.forEach(function (v, i) {
    series.push({
      type: 'line', name: models[i], z: 2,
      data: calBins.map(function (b, j) { return [b, v[j]]; }),
      symbol: 'circle', symbolSize: 9, showSymbol: true, connectNulls: false,
      lineStyle: { color: rocColors[i], width: 2.5 }, itemStyle: { color: rocColors[i] }
    });
  });
  var xa = boxAxes(-5, 105, calTicks, calMinor, function (v) { return String(v); }, 32, '#333');
  var ya = boxAxes(-5, 105, calTicks, calMinor, function (v) { return String(v); }, 32, '#333');
  xa[1].position = 'top';
  ya[1].position = 'right';
  var g = lay.grid;
  chart.setOption({
    animation: false,
    backgroundColor: 'transparent',
    grid: { left: g[0], top: g[1], width: g[2], height: g[3], show: true, borderColor: '#1a1a1a', borderWidth: 3, outerBoundsMode: 'none' },
    xAxis: xa,
    yAxis: ya,
    legend: {
      orient: 'vertical', left: lay.legend, top: 513, padding: 0, selectedMode: false,
      itemWidth: 36, itemHeight: 12, itemGap: 21.8, data: models,
      textStyle: { fontSize: 25, fontFamily: SERIF, color: '#1a1a1a', lineHeight: 26, width: lay.textW, overflow: 'truncate', ellipsis: '', padding: [0, 0, 0, 12] }
    },
    graphic: [
      txt(lay.letter, 111, lay.letterText, 58, { weight: 'bold', family: lay.letterFamily }),
      txt(lay.ytitle, 559, 'Observed event percentage', 47, { rot: Math.PI / 2 }),
      txt(g[0] + g[2] / 2, 1109, 'Bin midpoint', 48),
      txt(lay.model, 475, 'Model', 29, { family: SERIF })
    ],
    series: series
  });
}

calPanel(0, calG, { grid: [204.7, 100.5, 864.6, 884.7], legend: 881, textW: 134, letter: 39, letterText: 'G', ytitle: 50, model: 913 });
calPanel(1, calH, { grid: [201.4, 100.5, 866, 884.7], legend: 878, textW: 134, letter: 48, letterText: 'H', ytitle: 46, model: 910 });
calPanel(2, calI, { grid: [218.7, 100.5, 864.3, 884.7], legend: 895, textW: 133, letter: 51, letterText: 'I', ytitle: 61, model: 927, letterFamily: SERIF });

// ---------- decision curves ----------
var DCA_XMIN = -0.04, DCA_XMAX = 1.04, DCA_YMIN = -0.092, DCA_YMAX = 1.042;

function dcaPanel(col, curves, allCurve, lay) {
  var chart = panel(col, 3);
  var series = [
    { type: 'line', name: 'All', data: allCurve, symbol: 'none', z: 2, lineStyle: { color: '#C8C8C8', width: 2 }, itemStyle: { color: '#C8C8C8' } },
    { type: 'line', name: 'None', data: dcaNone, symbol: 'none', z: 2, lineStyle: { color: '#606060', width: 2.5 }, itemStyle: { color: '#606060' } }
  ];
  curves.forEach(function (c, i) {
    series.push({
      type: 'line', name: dcaModels[i], data: c, symbol: 'none', z: 2,
      lineStyle: { color: dcaColors[i], width: 2.2 }, itemStyle: { color: dcaColors[i] }
    });
  });
  // base-style axis lines spanning the tick range only
  series.push({ type: 'line', name: '_xa', silent: true, clip: false, symbol: 'none', z: 2,
    data: [[dcaTicks[0], DCA_YMIN], [dcaTicks[dcaTicks.length - 1], DCA_YMIN]], lineStyle: { color: '#555', width: 2.5 } });
  series.push({ type: 'line', name: '_ya', silent: true, clip: false, symbol: 'none', z: 2,
    data: [[DCA_XMIN, dcaTicks[0]], [DCA_XMIN, dcaTicks[dcaTicks.length - 1]]], lineStyle: { color: '#555', width: 2.5 } });
  var fmt = function (v) { return v.toFixed(1); };
  var ax = function (min, max, margin) {
    return {
      type: 'value', min: min, max: max,
      axisLine: { show: false },
      axisTick: { show: true, customValues: dcaTicks, length: 14, lineStyle: { color: '#555', width: 2.5 } },
      axisLabel: { customValues: dcaTicks, formatter: fmt, margin: margin, fontSize: 46, color: '#000', fontFamily: FONT },
      splitLine: { show: true, lineStyle: { color: '#EEEEEE', width: 2 } }
    };
  };
  var g = lay.grid;
  var b = lay.box;
  chart.setOption({
    animation: false,
    backgroundColor: 'transparent',
    grid: { left: g[0], top: g[1], width: g[2], height: g[3], outerBoundsMode: 'none' },
    xAxis: ax(DCA_XMIN, DCA_XMAX, 40),
    yAxis: ax(DCA_YMIN, DCA_YMAX, 38),
    legend: {
      orient: 'vertical', left: lay.legend, top: 146, padding: 0, selectedMode: false, icon: 'rect',
      itemWidth: 46, itemHeight: 2.5, itemGap: 3.2, data: dcaModels.concat(['All', 'None']),
      textStyle: { fontSize: 27, fontFamily: FONT, color: '#000', lineHeight: 27 }
    },
    graphic: [
      { type: 'rect', z: 3, silent: true, shape: { x: b[0], y: b[1], width: b[2], height: b[3] }, style: { fill: '#fff', stroke: '#111', lineWidth: 2 } },
      txt(lay.letter, 143, lay.letterText, 58, { weight: 'bold' }),
      txt(lay.ytitle, 512, 'Standardized net benefit', 47, { rot: Math.PI / 2 }),
      txt(lay.xcenter, 1037, 'High risk threshold', 48)
    ],
    series: series
  });
}

dcaPanel(0, dcaJ, dcaAllJ, { grid: [204.4, 129, 864, 776], legend: 835, box: [813, 129, 256, 391], letter: 32, letterText: 'J', ytitle: 53, xcenter: 636 });
dcaPanel(1, dcaK, dcaAllK, { grid: [201, 129, 866, 776], legend: 832, box: [811, 129, 257, 393], letter: 46, letterText: 'K', ytitle: 50, xcenter: 634 });
dcaPanel(2, dcaL, dcaAllL, { grid: [216.5, 129, 869, 776], legend: 849, box: [828, 128, 258, 393], letter: 58, letterText: 'L', ytitle: 63, xcenter: 651 });
</script>
</body>
</html>
